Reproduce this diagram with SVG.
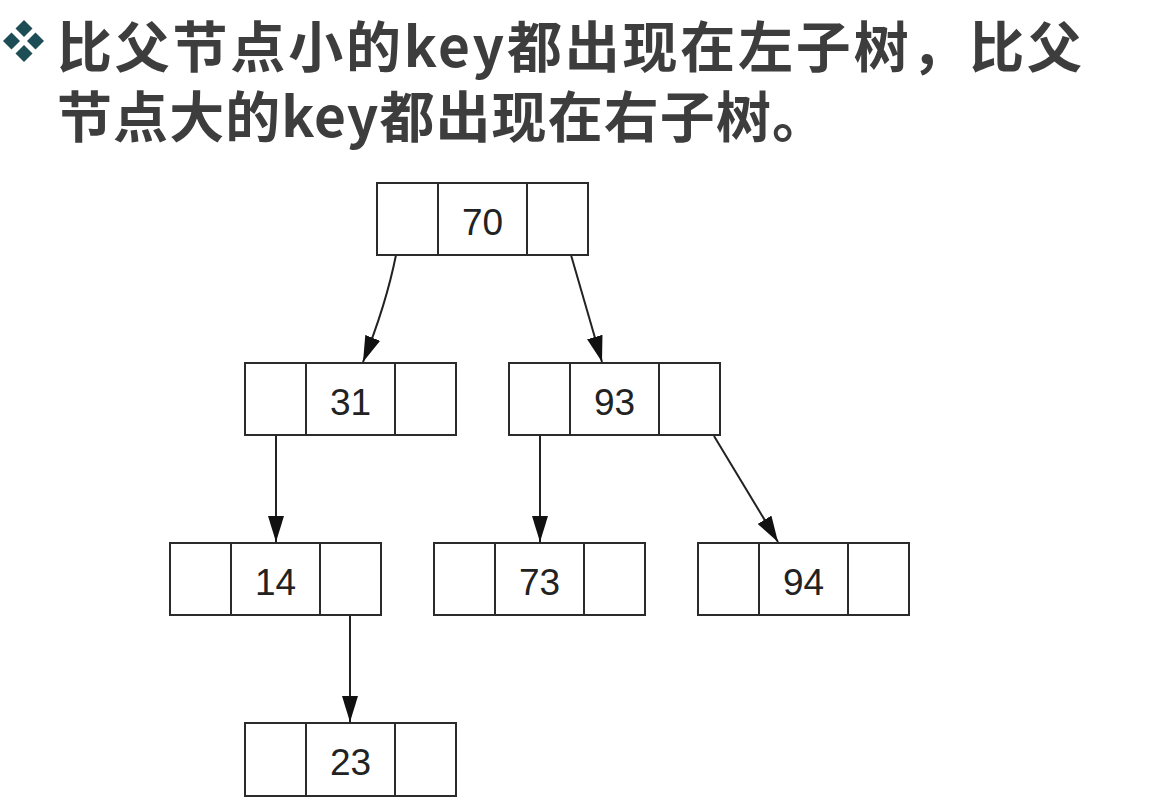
<svg xmlns="http://www.w3.org/2000/svg" width="1149" height="807" viewBox="0 0 1149 807">
  <style>
    .title { font-family: "Noto Sans CJK SC", "Noto Sans", sans-serif; font-weight: bold; font-size: 55px; fill: #3d3d3d; }
    .box { fill: #ffffff; stroke: #2b2b2b; stroke-width: 2; }
    .div { stroke: #2b2b2b; stroke-width: 2; }
    .key { font-family: "Liberation Sans", Arial, sans-serif; font-size: 37px; fill: #222222; text-anchor: middle; }
    .edge { fill: none; stroke: #222222; stroke-width: 2; marker-end: url(#arrow); }
    .bullet { fill: #1d4d55; }
  </style>
  <defs>
    <marker id="arrow" markerUnits="userSpaceOnUse" viewBox="0 0 26 16" markerWidth="26" markerHeight="16" refX="26" refY="8" orient="auto">
      <path d="M0,0 L26,8 L0,16 z" fill="#111111"/>
    </marker>
  </defs>
  <rect x="0" y="0" width="1149" height="807" fill="#ffffff"/>

  <g id="bullet">
    <path class="bullet" d="M24,20 L32.5,28.5 L24,37 L15.5,28.5 z"/>
    <path class="bullet" d="M24,45 L32.5,53.5 L24,62 L15.5,53.5 z"/>
    <path class="bullet" d="M11.5,32.5 L20,41 L11.5,49.5 L3,41 z"/>
    <path class="bullet" d="M35.5,32.5 L44,41 L35.5,49.5 L27,41 z"/>
  </g>

  <g id="title">
    <text class="title" x="57" y="67" textLength="1025" lengthAdjust="spacing">比父节点小的key都出现在左子树，比父</text>
    <text class="title" x="57" y="137" textLength="770" lengthAdjust="spacing">节点大的key都出现在右子树。</text>
  </g>

  <g id="edges">
    <path class="edge" d="M396,255 Q386,305 363,362"/>
    <path class="edge" d="M571,255 L602,362"/>
    <path class="edge" d="M276,436 L276,542"/>
    <path class="edge" d="M540,436 L540,542"/>
    <path class="edge" d="M714,436 L778,542"/>
    <path class="edge" d="M350,616 L350,722"/>
  </g>

  <g id="node70">
    <rect class="box" x="377" y="183" width="211" height="72"/>
    <line class="div" x1="438" y1="183" x2="438" y2="255"/>
    <line class="div" x1="527" y1="183" x2="527" y2="255"/>
    <text class="key" x="482.5" y="235">70</text>
  </g>
  <g id="node31">
    <rect class="box" x="245" y="363" width="211" height="72"/>
    <line class="div" x1="306" y1="363" x2="306" y2="435"/>
    <line class="div" x1="395" y1="363" x2="395" y2="435"/>
    <text class="key" x="350.5" y="415">31</text>
  </g>
  <g id="node93">
    <rect class="box" x="509" y="363" width="211" height="72"/>
    <line class="div" x1="570" y1="363" x2="570" y2="435"/>
    <line class="div" x1="659" y1="363" x2="659" y2="435"/>
    <text class="key" x="614.5" y="415">93</text>
  </g>
  <g id="node14">
    <rect class="box" x="170" y="543" width="211" height="72"/>
    <line class="div" x1="231" y1="543" x2="231" y2="615"/>
    <line class="div" x1="320" y1="543" x2="320" y2="615"/>
    <text class="key" x="275.5" y="595">14</text>
  </g>
  <g id="node73">
    <rect class="box" x="434" y="543" width="211" height="72"/>
    <line class="div" x1="495" y1="543" x2="495" y2="615"/>
    <line class="div" x1="584" y1="543" x2="584" y2="615"/>
    <text class="key" x="539.5" y="595">73</text>
  </g>
  <g id="node94">
    <rect class="box" x="698" y="543" width="211" height="72"/>
    <line class="div" x1="759" y1="543" x2="759" y2="615"/>
    <line class="div" x1="848" y1="543" x2="848" y2="615"/>
    <text class="key" x="803.5" y="595">94</text>
  </g>
  <g id="node23">
    <rect class="box" x="245" y="723" width="211" height="73"/>
    <line class="div" x1="306" y1="723" x2="306" y2="796"/>
    <line class="div" x1="395" y1="723" x2="395" y2="796"/>
    <text class="key" x="350.5" y="775">23</text>
  </g>
</svg>
